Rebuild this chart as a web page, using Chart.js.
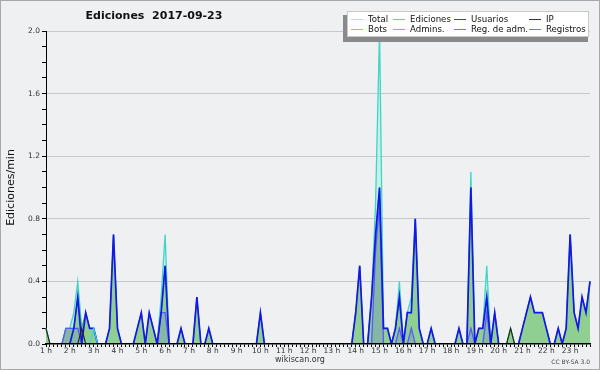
<!DOCTYPE html>
<html>
<head>
<meta charset="utf-8">
<script src="https://cdn.jsdelivr.net/npm/chart.js@4.4.1/dist/chart.umd.min.js"></script>
<style>
  html, body { margin:0; padding:0; background:#eef0f2; }
  #wrap { position:relative; width:600px; height:370px; background:#eef0f2; overflow:hidden; font-family:'DejaVu Sans', sans-serif; }
  #c { position:absolute; left:0; top:0; }
  #frame { position:absolute; left:0; top:0; width:600px; height:370px; box-sizing:border-box; border:1px solid #a8a8a8; pointer-events:none; }
  #title { position:absolute; left:0; width:308px; top:9px; text-align:center; font-weight:bold; font-size:11px; color:#111; white-space:pre; }
  #legShadow { position:absolute; left:343px; top:15px; width:245px; height:27px; background:#8a8a8a; }
  #leg { position:absolute; left:347px; top:11px; width:242px; height:26px; background:#fff; border:1px solid #c8c8c8; box-sizing:border-box; }
  .li { position:absolute; font-size:8.6px; color:#111; white-space:nowrap; line-height:10px; }
  .sw { position:absolute; height:1px; width:12px; }
  #site { position:absolute; left:0; width:600px; top:355px; text-align:center; font-size:8px; color:#333; }
  #cc { position:absolute; right:10px; top:358px; font-size:6px; color:#444; }
</style>
</head>
<body>
<div id="wrap">
  <canvas id="c" width="600" height="370"></canvas>
  <div id="title">Ediciones  2017-09-23</div>
  <div id="legShadow"></div>
  <div id="leg"></div>
  <div id="site">wikiscan.org</div>
  <div id="cc">CC BY-SA 3.0</div>
  <div id="frame"></div>
</div>
<script>
// Hour tick labels (one every 6 ten-minute bins, starting at 1 h)
const hourLabels = ['1 h','2 h','3 h','4 h','5 h','6 h','7 h','8 h','9 h','10 h','11 h','12 h',
                    '13 h','14 h','15 h','16 h','17 h','18 h','19 h','20 h','21 h','22 h','23 h'];

// Edits per minute, 10-minute bins from 1:00 to 23:50 (6 values per hour row)
const total = [
  .1,0,0,0,0,.1,   .1,.2,.4,.1,.2,.1,   .1,0,0,0,.1,.7,   .1,0,0,0,0,.1,
  .2,0,.2,.1,0,.3,  .7,0,0,0,.1,0,     0,0,.3,0,0,.1,    0,0,0,0,0,0,
  0,0,0,0,0,0,     .2,0,0,0,0,0,      0,0,0,0,0,0,      0,0,0,0,0,0,
  0,0,0,0,0,0,     .2,.5,0,0,.3,.9,   2.0,.1,.1,0,.1,.4, 0,.2,.3,.8,.1,0,
  0,.1,0,0,0,0,    0,0,.1,0,0,1.1,    0,.1,.1,.5,0,.2,  0,0,0,.1,0,0,
  .1,.2,.3,.2,.2,.2, .1,0,0,.1,0,.1,  .7,.2,.1,.3,.2,.4
];
const ediciones = [
  .1,0,0,0,0,.1,   .1,.1,.3,.1,.2,.1,   .1,0,0,0,.1,.7,   .1,0,0,0,0,.1,
  .2,0,.2,.1,0,.2,  .5,0,0,0,.1,0,     0,0,.3,0,0,.1,    0,0,0,0,0,0,
  0,0,0,0,0,0,     .2,0,0,0,0,0,      0,0,0,0,0,0,      0,0,0,0,0,0,
  0,0,0,0,0,0,     .2,.5,0,0,.3,.7,   1.0,.1,.1,0,.1,.3, 0,.2,.2,.8,.1,0,
  0,.1,0,0,0,0,    0,0,.1,0,0,1.0,    0,.1,.1,.3,0,.2,  0,0,0,.1,0,0,
  .1,.2,.3,.2,.2,.2, .1,0,0,.1,0,.1,  .7,.2,.1,.3,.2,.4
];
const usuarios = [
  0,0,0,0,0,0,     0,.1,.3,0,.2,.1,   .1,0,0,0,.1,.7,   .1,0,0,0,0,.1,
  .2,0,.2,.1,0,.2,  .5,0,0,0,.1,0,     0,0,.3,0,0,.1,    0,0,0,0,0,0,
  0,0,0,0,0,0,     .2,0,0,0,0,0,      0,0,0,0,0,0,      0,0,0,0,0,0,
  0,0,0,0,0,0,     .2,.5,0,0,.3,.7,   1.0,.1,.1,0,.1,.3, 0,.2,.2,.8,.1,0,
  0,.1,0,0,0,0,    0,0,.1,0,0,1.0,    0,.1,.1,.3,0,.2,  0,0,0,0,0,0,
  .1,.2,.3,.2,.2,.2, .1,0,0,.1,0,.1,  .7,.2,.1,.3,.2,.4
];
const ip = [
  .1,0,0,0,0,0,    0,0,0,.1,0,0,      0,0,0,0,0,0,      0,0,0,0,0,0,
  0,0,0,0,0,0,     0,0,0,0,0,0,       0,0,0,0,0,0,      0,0,0,0,0,0,
  0,0,0,0,0,0,     0,0,0,0,0,0,       0,0,0,0,0,0,      0,0,0,0,0,0,
  0,0,0,0,0,0,     0,0,0,0,0,0,       0,0,0,0,0,0,      0,0,0,0,0,0,
  0,0,0,0,0,0,     0,0,0,0,0,0,       0,0,0,0,0,0,      0,0,0,.1,0,0,
  0,0,0,0,0,0,     0,0,0,0,0,0,       0,0,0,0,0,0
];
const registros = [
  0,0,0,0,0,.1,    .1,.1,.1,0,0,0,    0,0,0,0,0,0,      0,0,0,0,0,0,
  0,0,0,0,0,.2,    .2,0,0,0,0,0,      0,0,0,0,0,0,      0,0,0,0,0,0,
  0,0,0,0,0,0,     0,0,0,0,0,0,       0,0,0,0,0,0,      0,0,0,0,0,0,
  0,0,0,0,0,0,     0,0,0,0,0,.6,      .9,0,0,0,0,.1,    0,0,.1,0,0,0,
  0,0,0,0,0,0,     0,0,0,0,0,.1,      0,0,0,.2,0,0,     0,0,0,0,0,0,
  0,0,0,0,0,0,     0,0,0,0,0,0,       0,0,0,0,0,0
];
const admins = [
  0,0,0,0,0,0,     0,0,0,0,0,0,       .1,0,0,0,0,0,     0,0,0,0,0,0,
  0,0,0,0,0,0,     0,0,0,0,0,0,       0,0,0,0,0,0,      0,0,0,0,0,0,
  0,0,0,0,0,0,     0,0,0,0,0,0,       0,0,0,0,0,0,      0,0,0,0,0,0,
  0,0,0,0,0,0,     0,0,0,0,0,0,       0,0,0,0,0,0,      0,0,0,0,0,0,
  0,0,0,0,0,0,     0,0,0,0,0,0,       0,0,0,0,0,0,      0,0,0,0,0,0,
  0,0,0,0,0,0,     0,0,0,0,0,0,       0,0,0,0,0,0
];
const bots = new Array(total.length).fill(0);
const regAdm = new Array(total.length).fill(0);

const binsPerHour = 6;
const xLabels = total.map((_, i) => (i % binsPerHour === 0 ? hourLabels[i / binsPerHour] : ''));

const legendItems = [
  ['Total', '#a4e9e0'], ['Ediciones', '#78cf78'], ['Usuarios', '#3a3af0'], ['IP', '#333333'],
  ['Bots', '#ffa52a'], ['Admins.', '#3ad6e6'], ['Reg. de adm.', '#e03cf0'], ['Registros', '#7373ff']
];
const legCols = [3, 45, 106, 181];
const leg = document.getElementById('leg');
legendItems.forEach((it, k) => {
  const col = k % 4, row = Math.floor(k / 4);
  const sw = document.createElement('div');
  sw.className = 'sw';
  sw.style.left = legCols[col] + 'px';
  sw.style.top = (7 + row * 10) + 'px';
  sw.style.background = it[1];
  leg.appendChild(sw);
  const t = document.createElement('div');
  t.className = 'li';
  t.style.left = (legCols[col] + 17) + 'px';
  t.style.top = (2 + row * 10) + 'px';
  t.textContent = it[0];
  leg.appendChild(t);
});

const base = { pointRadius: 0, tension: 0, borderJoinStyle: 'miter',
               clip: { left: 2, top: 2, right: 2, bottom: -1 } };
new Chart(document.getElementById('c'), {
  type: 'line',
  data: {
    labels: xLabels,
    datasets: [
      { ...base, label: 'Total', data: total, borderColor: '#3fd6c6', borderWidth: 1.3,
        backgroundColor: 'rgba(170,238,228,0.55)', fill: 'origin', order: 10 },
      { ...base, label: 'Ediciones', data: ediciones, borderColor: '#4fae52', borderWidth: 1,
        backgroundColor: '#8fcf91', fill: 'origin', order: 9 },
      { ...base, label: 'Bots', data: bots, borderColor: '#ffa52a', borderWidth: 1, fill: false, order: 8 },
      { ...base, label: 'Reg. de adm.', data: regAdm, borderColor: '#e03cf0', borderWidth: 1, fill: false, order: 7 },
      { ...base, label: 'Registros', data: registros, borderColor: '#5858ff', borderWidth: 1.3,
        backgroundColor: 'rgba(100,110,225,0.25)', fill: 'origin', order: 5 },
      { ...base, label: 'Usuarios', data: usuarios, borderColor: '#1616e8', borderWidth: 1.7, fill: false, order: 3 },
      { ...base, label: 'Admins.', data: admins, borderColor: '#3ad6e6', borderWidth: 1.2, fill: false, order: 2 },
      { ...base, label: 'IP', data: ip, borderColor: '#1e2a1e', borderWidth: 1.2, fill: false, order: 1 }
    ]
  },
  options: {
    responsive: false,
    animation: false,
    devicePixelRatio: 1,
    layout: { padding: { top: 31, right: 10, bottom: 0, left: 0 } },
    plugins: { legend: { display: false }, tooltip: { enabled: false }, title: { display: false } },
    scales: {
      x: {
        type: 'category',
        z: 1,
        offset: false,
        grid: { drawOnChartArea: false, drawTicks: true, tickLength: 3, tickColor: '#000', tickWidth: 1 },
        border: { color: '#000', width: 1.5 },
        ticks: {
          autoSkip: false, maxRotation: 0, minRotation: 0, padding: 0, color: '#333',
          font: { family: 'DejaVu Sans', size: 7.5 },
          callback: (v, i) => xLabels[i]
        },
        afterFit: (s) => { s.height = 26; }
      },
      y: {
        min: 0, max: 2,
        ticks: {
          stepSize: 0.1, maxTicksLimit: 30, padding: 2, color: '#333',
          font: { family: 'DejaVu Sans', size: 7.5 },
          callback: (v) => (Math.round(v * 10) % 4 === 0 ? v.toFixed(1) : '')
        },
        grid: {
          color: (ctx) => {
            const v = ctx.tick ? ctx.tick.value : 0;
            return (Math.round(v * 10) % 4 === 0 && v > 0) ? '#c6c8ca' : 'rgba(0,0,0,0)';
          },
          lineWidth: 1, tickLength: 4, tickColor: '#000', drawTicks: true
        },
        border: { color: '#000', width: 1 },
        title: { display: true, text: 'Ediciones/min', color: '#111',
                 font: { family: 'DejaVu Sans', size: 11 }, padding: { top: 5, bottom: 0 } },
        afterFit: (s) => { s.width = 46; }
      }
    }
  }
});
</script>
</body>
</html>
